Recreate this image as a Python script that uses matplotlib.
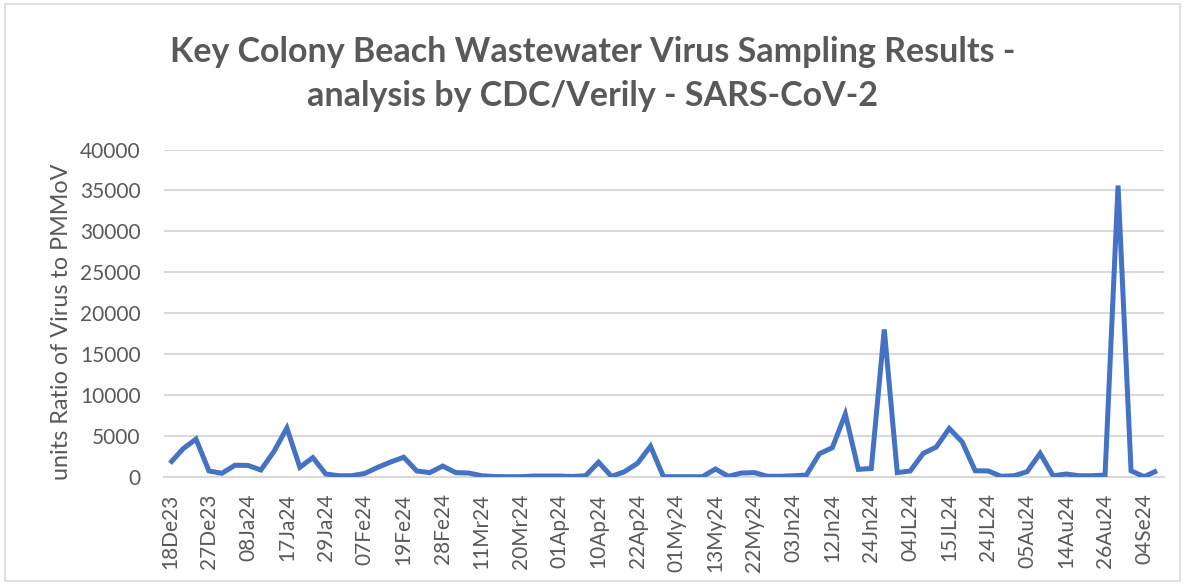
#!/usr/bin/env python3
"""Key Colony Beach wastewater sampling chart."""
import matplotlib
matplotlib.use("Agg")
import matplotlib.pyplot as plt
from matplotlib.patches import Rectangle
import numpy as np

# ratio of virus to PMMoV, one value per sample
values = [1650, 3400, 4600, 700, 420, 1400, 1380, 820, 3070, 5950,
          1150, 2330, 330, 120, 120, 400, 1150, 1800, 2380, 700,
          500, 1300, 500, 450, 120, 20, 0, 0, 80, 80,
          80, 30, 120, 1770, 30, 620, 1640, 3720, 0, 0,
          0, 0, 940, 50, 450, 500, 50, 50, 120, 200,
          2800, 3550, 7650, 900, 1000, 18000, 500, 700, 2850, 3620,
          5900, 4250, 730, 700, 50, 120, 610, 2850, 120, 330,
          120, 120, 200, 35600, 730, 0, 730]

# every third sample gets a label
tick_labels = ["18De23", "27De23", "08Ja24", "17Ja24", "29Ja24", "07Fe24",
               "19Fe24", "28Fe24", "11Mr24", "20Mr24", "01Ap24", "10Ap24",
               "22Ap24", "01My24", "13My24", "22My24", "03Jn24", "12Jn24",
               "24Jn24", "04JL24", "15JL24", "24JL24", "05Au24", "14Au24",
               "26Au24", "04Se24"]

title = ("Key Colony Beach Wastewater Virus Sampling Results -\n"
         "analysis by CDC/Verily - SARS-CoV-2")
ylabel = "units Ratio of Virus to PMMoV"

textcol = "#595959"
gridcol = "#D9D9D9"
linecol = "#4472C4"

plt.rcParams["font.family"] = ["Lato", "DejaVu Sans"]

W, H = 1185, 585
fig = plt.figure(figsize=(W / 100, H / 100), dpi=100)
ax = fig.add_axes([163.5 / W, 1 - 476.7 / H,
                   1000 / W, (476.7 - 149.5) / H])

x = np.arange(len(values))
ax.plot(x, values, color=linecol, lw=3.6, solid_joinstyle="miter",
        solid_capstyle="butt", zorder=3)

ax.set_xlim(-0.5, len(values) - 0.5)
ax.set_ylim(0, 40000)
ax.set_yticks(np.arange(0, 40001, 5000))
ax.set_xticks(np.arange(0, 3 * len(tick_labels), 3))
ax.set_xticklabels(tick_labels, rotation=90)

ax.grid(axis="y", color=gridcol, lw=1.5, zorder=0)
for s in ["top", "right", "left"]:
    ax.spines[s].set_visible(False)
ax.spines["bottom"].set_color(gridcol)
ax.spines["bottom"].set_linewidth(1.5)
ax.tick_params(length=0, labelsize=15, colors=textcol)
ax.tick_params(axis="y", pad=16.5)
ax.tick_params(axis="x", pad=12)

ax.set_ylabel(ylabel, fontsize=16.8, color=textcol)
ax.yaxis.set_label_coords((72 - 163.5) / 1000, 0.474)

fig.text(0.5, 1 - 74 / H, title, ha="center", va="center", fontsize=24.5,
         fontweight="bold", color=textcol, linespacing=1.45)

fig.patches.append(Rectangle((5 / W, 4 / H), 1 - 10 / W, 1 - 8 / H,
                             transform=fig.transFigure, fill=False,
                             edgecolor=gridcol, lw=1.2))

fig.savefig("out.png", dpi=100)
